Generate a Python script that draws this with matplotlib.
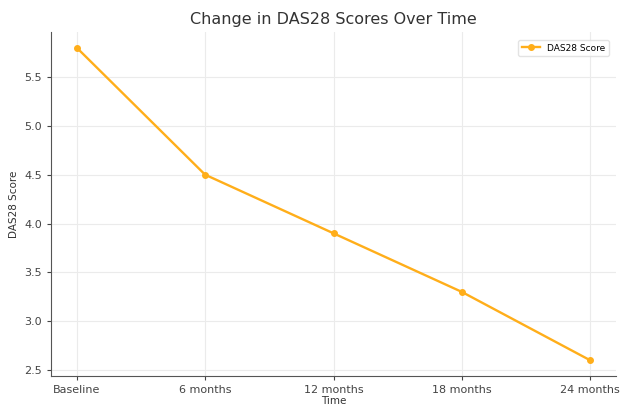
import matplotlib.pyplot as plt

# data
time_points = ['Baseline', '6 months', '12 months', '18 months', '24 months']
das28_scores = [5.8, 4.5, 3.9, 3.3, 2.6]

fig = plt.figure(figsize=(6.21, 4.07), dpi=100)
ax = fig.add_axes([51 / 621, 31 / 407, 565 / 621, 344 / 407])

ax.plot(time_points, das28_scores, color='#FFAE1A', marker='o', markersize=4,
        linewidth=1.7, label='DAS28 Score')

ax.set_title('Change in DAS28 Scores Over Time', fontsize=11.5, color='#333333', pad=6)
ax.set_xlabel('Time', fontsize=7.5, color='#333333', labelpad=1)
ax.set_ylabel('DAS28 Score', fontsize=7.5, color='#333333', labelpad=4)
ax.tick_params(labelsize=8, colors='#444444', length=3, width=0.8)

ax.grid(True, color='#ebebeb', linewidth=0.8)
ax.spines['top'].set_visible(False)
ax.spines['right'].set_visible(False)
ax.spines['left'].set_color('#555555')
ax.spines['bottom'].set_color('#555555')

ax.legend(loc='upper right', fontsize=6.5, frameon=True, edgecolor='#dddddd',
          bbox_to_anchor=(0.995, 0.99))

plt.savefig('out.png', dpi=100)
